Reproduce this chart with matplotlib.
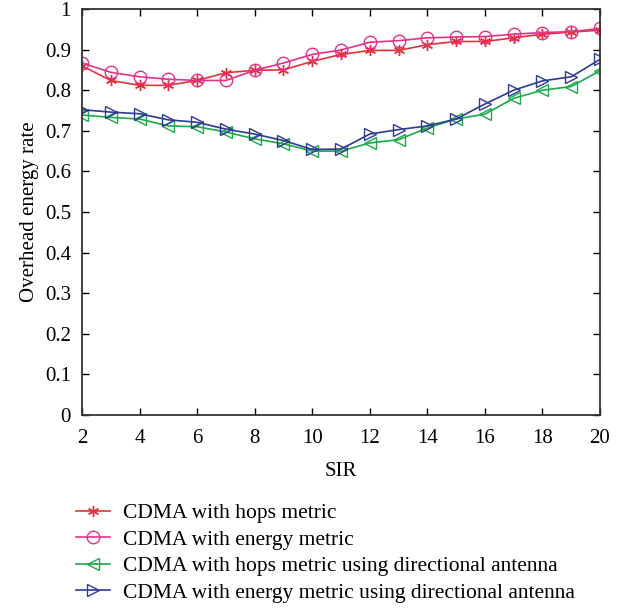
import numpy as np
import matplotlib
matplotlib.use("Agg")
import matplotlib.pyplot as plt

plt.rcParams['font.family'] = ['Liberation Serif', 'DejaVu Serif']

sir = np.arange(2, 21)
hops = [0.860, 0.824, 0.812, 0.812, 0.824, 0.843, 0.849, 0.850, 0.871, 0.888,
        0.898, 0.898, 0.912, 0.920, 0.920, 0.929, 0.938, 0.943, 0.948]
energy = [0.867, 0.844, 0.833, 0.827, 0.824, 0.824, 0.849, 0.867, 0.888, 0.899,
          0.918, 0.922, 0.929, 0.931, 0.932, 0.938, 0.942, 0.944, 0.952]
hops_dir = [0.739, 0.733, 0.729, 0.712, 0.710, 0.697, 0.680, 0.668, 0.650, 0.650,
            0.670, 0.678, 0.707, 0.729, 0.741, 0.780, 0.800, 0.809, 0.848]
energy_dir = [0.752, 0.746, 0.742, 0.727, 0.721, 0.704, 0.692, 0.676, 0.654, 0.655,
              0.692, 0.703, 0.712, 0.729, 0.766, 0.800, 0.823, 0.833, 0.876]

labels = ['CDMA with hops metric',
          'CDMA with energy metric',
          'CDMA with hops metric using directional antenna',
          'CDMA with energy metric using directional antenna']

fig = plt.figure(figsize=(6.24, 6.09), dpi=100)
ax = fig.add_axes([82 / 624, 1 - 415 / 609, 518 / 624, 406 / 609])

ax.plot(sir, hops, '-', marker=(6, 2, 0), color='#e8303a', lw=1.2,
        markersize=8, mew=1.0, label=labels[0])
ax.plot(sir, energy, '-o', color='#e6308a', lw=1.2, markersize=9,
        markerfacecolor='none', mew=1.0, label=labels[1])
ax.plot(sir, hops_dir, '-<', color='#1aaa4a', lw=1.2, markersize=9,
        markerfacecolor='none', mew=1.0, label=labels[2])
ax.plot(sir, energy_dir, '->', color='#2e3a94', lw=1.2, markersize=9,
        markerfacecolor='none', mew=1.0, label=labels[3])

ax.set_xlim(2, 20)
ax.set_ylim(0, 1)
ax.set_xticks(np.arange(2, 21, 2))
ax.set_yticks(np.arange(0, 1.01, 0.1))
ax.set_yticklabels(['0'] + [f'{v:.1f}' for v in np.arange(0.1, 1.0, 0.1)] + ['1'])
ax.tick_params(direction='in', top=True, right=True, labelsize=15, length=5,
               width=1.0)
ax.tick_params(axis='x', pad=10)
ax.tick_params(axis='y', pad=8)
for s in ax.spines.values():
    s.set_linewidth(1.3)
    s.set_color('#333333')
ax.set_xlabel('SIR', fontsize=15, labelpad=10)
ax.set_ylabel('Overhead energy rate', fontsize=15, labelpad=4)

fig.legend(loc='upper left', bbox_to_anchor=(76 / 624, 1 - 503 / 609),
           frameon=False, fontsize=15.5, handlelength=1.6, handletextpad=0.6,
           labelspacing=0.3, borderaxespad=0, borderpad=0)

fig.savefig('out.png', dpi=100)
